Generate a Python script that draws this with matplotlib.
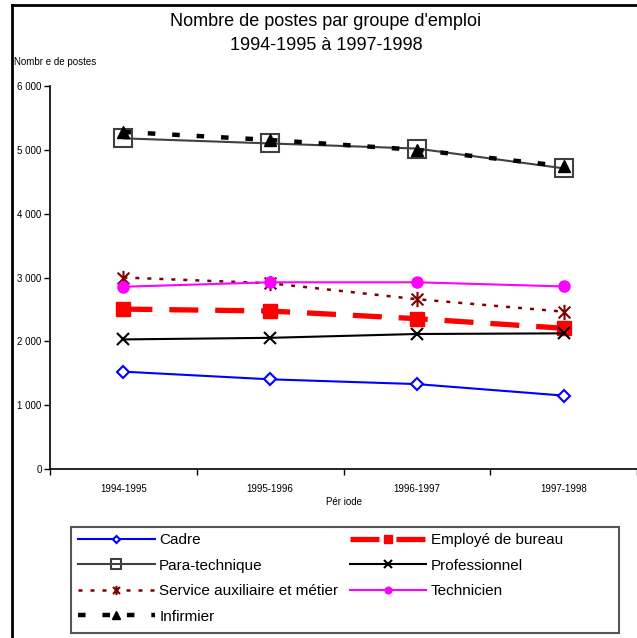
import matplotlib
matplotlib.use("Agg")
import matplotlib.pyplot as plt
from matplotlib.path import Path
from matplotlib.lines import Line2D
from matplotlib.patches import Rectangle

plt.rcParams['font.family'] = ['Liberation Sans', 'DejaVu Sans']

# data
periodes = ["1994-1995", "1995-1996", "1996-1997", "1997-1998"]
cadre = [1525, 1405, 1330, 1150]
employe = [2505, 2475, 2355, 2205]
para_technique = [5180, 5100, 5020, 4710]
professionnel = [2030, 2055, 2115, 2125]
service = [3000, 2910, 2660, 2465]
technicien = [2855, 2925, 2925, 2860]
infirmier = [5280, 5155, 5000, 4745]

x = list(range(len(periodes)))

# Excel-like star marker (x with a vertical bar)
star = Path([(-1, -1), (1, 1), (-1, 1), (1, -1), (0, -1.3), (0, 1.3)],
            [Path.MOVETO, Path.LINETO, Path.MOVETO, Path.LINETO, Path.MOVETO, Path.LINETO])

fig = plt.figure(figsize=(6.37, 6.38), dpi=100)
ax = fig.add_axes([50 / 637, 1 - 469 / 638, (637 - 50) / 637, (469 - 86) / 638])

l_cadre, = ax.plot(x, cadre, color='#0000ff', lw=1.5, marker='D', ms=6,
                   mfc='white', mec='#0000ff', mew=1.5, label='Cadre')
l_emp, = ax.plot(x, employe, color='#ff0000', lw=3.8, dashes=(5.5, 3.2),
                 marker='s', ms=9.5, mfc='#ff0000', mec='#ff0000', label='Employé de bureau')
l_para, = ax.plot(x, para_technique, color='#404040', lw=1.5, marker='s', ms=12.5,
                  mfc='none', mec='#404040', mew=1.5, label='Para-technique')
l_prof, = ax.plot(x, professionnel, color='black', lw=1.5, marker='x', ms=9,
                  mew=1.5, label='Professionnel')
l_serv, = ax.plot(x, service, color='#800000', lw=1.8, dashes=(1.6, 3.2),
                  marker=star, ms=11, mec='#800000', mew=1.5, label='Service auxiliaire et métier')
l_tech, = ax.plot(x, technicien, color='#ff00ff', lw=1.5, marker='o', ms=8,
                  mfc='#ff00ff', mec='#ff00ff', label='Technicien')
l_inf, = ax.plot(x, infirmier, color='black', lw=3.2, dashes=(1.7, 3.8),
                 marker='^', ms=9, mfc='black', mec='black', label='Infirmier')

step = 148.2
ax.set_xlim(-0.5, (637 - 123.5) / step)
ax.set_ylim(0, 6000)

# category labels under the points, tick marks on the category boundaries
ax.set_xticks(x)
ax.set_xticklabels(periodes, fontsize=7)
ax.set_xticks([i - 0.5 for i in range(5)], minor=True)
ax.tick_params(axis='x', which='major', length=0, pad=11)
ax.tick_params(axis='x', which='minor', length=4, width=1)

ax.set_yticks(range(0, 6001, 1000))
ax.set_yticklabels(["0", "1 000", "2 000", "3 000", "4 000", "5 000", "6 000"], fontsize=7)
ax.tick_params(axis='y', length=4, width=1, pad=2)
ax.set_xlabel("Pér iode", fontsize=7, labelpad=2)

for s in ['top', 'right']:
    ax.spines[s].set_visible(False)
ax.spines['left'].set_linewidth(1.2)
ax.spines['bottom'].set_linewidth(1.2)

fig.text(326 / 637, 1 - 22 / 638, "Nombre de postes par groupe d'emploi",
         ha='center', va='center', fontsize=13)
fig.text(326 / 637, 1 - 46 / 638, "1994-1995 à 1997-1998",
         ha='center', va='center', fontsize=13)
fig.text(14 / 637, 1 - 62 / 638, "Nombr e de postes", ha='left', va='center', fontsize=7)

# outer frame of the original sheet (left and top edges)
fig.add_artist(Line2D([12 / 637, 12 / 637], [0, 1 - 5 / 638], color='black', lw=2,
                      transform=fig.transFigure))
fig.add_artist(Line2D([12 / 637, 1], [1 - 5 / 638, 1 - 5 / 638], color='black', lw=2,
                      transform=fig.transFigure))

# legend frame drawn separately so it can be wider than its content
fig.add_artist(Rectangle((71 / 637, 1 - 633 / 638), 548 / 637, 106 / 638,
                         transform=fig.transFigure, fill=False, edgecolor='#555555', lw=1.5))

handles = [l_cadre, l_para, l_serv, l_inf, l_emp, l_prof, l_tech]
leg = fig.legend(handles=handles, labels=[h.get_label() for h in handles], ncol=2,
                 loc='upper left', bbox_to_anchor=(63 / 637, 1 - 518 / 638),
                 fontsize=11, handlelength=5.0, handletextpad=0.3, columnspacing=0.75,
                 labelspacing=0.75, borderpad=0.5, markerscale=0.6, frameon=False)

fig.savefig("out.png", dpi=100)
